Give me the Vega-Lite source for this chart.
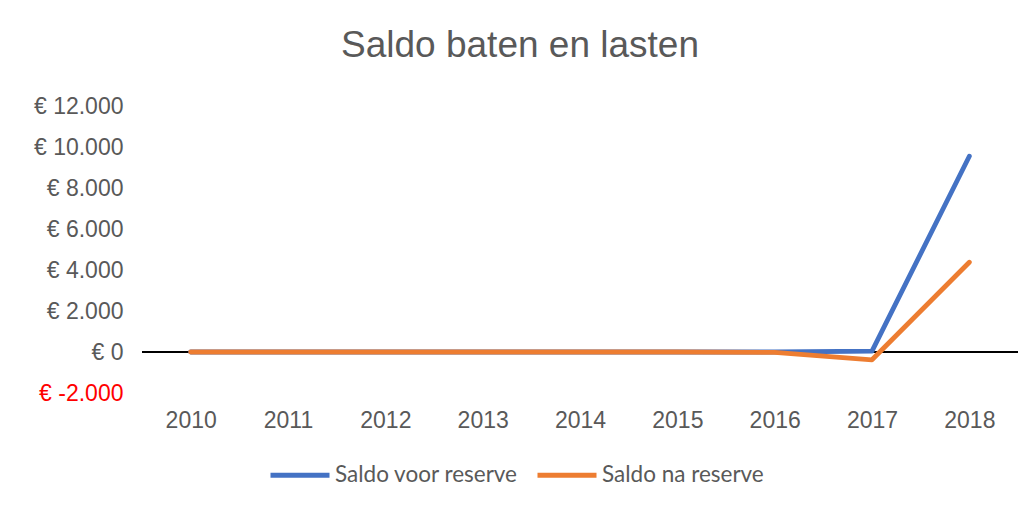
{
  "$schema": "https://vega.github.io/schema/vega-lite/v6.json",
  "autosize": "none",
  "width": 876,
  "height": 287,
  "padding": {"left": 142, "top": 106, "right": 10, "bottom": 121},
  "background": "white",
  "config": {"view": {"stroke": null}},
  "title": {
    "text": "Saldo baten en lasten",
    "font": "Liberation Sans",
    "fontSize": 37,
    "fontWeight": "normal",
    "color": "#595959",
    "anchor": "middle",
    "dx": -60,
    "offset": 30
  },
  "data": {
    "values": [
      {"jaar": "2010", "reeks": "Saldo voor reserve", "saldo": 0},
      {"jaar": "2011", "reeks": "Saldo voor reserve", "saldo": 0},
      {"jaar": "2012", "reeks": "Saldo voor reserve", "saldo": 0},
      {"jaar": "2013", "reeks": "Saldo voor reserve", "saldo": 0},
      {"jaar": "2014", "reeks": "Saldo voor reserve", "saldo": 0},
      {"jaar": "2015", "reeks": "Saldo voor reserve", "saldo": 0},
      {"jaar": "2016", "reeks": "Saldo voor reserve", "saldo": 0},
      {"jaar": "2017", "reeks": "Saldo voor reserve", "saldo": 40},
      {"jaar": "2018", "reeks": "Saldo voor reserve", "saldo": 9550},
      {"jaar": "2010", "reeks": "Saldo na reserve", "saldo": 0},
      {"jaar": "2011", "reeks": "Saldo na reserve", "saldo": 0},
      {"jaar": "2012", "reeks": "Saldo na reserve", "saldo": 0},
      {"jaar": "2013", "reeks": "Saldo na reserve", "saldo": 0},
      {"jaar": "2014", "reeks": "Saldo na reserve", "saldo": 0},
      {"jaar": "2015", "reeks": "Saldo na reserve", "saldo": 0},
      {"jaar": "2016", "reeks": "Saldo na reserve", "saldo": -20},
      {"jaar": "2017", "reeks": "Saldo na reserve", "saldo": -380},
      {"jaar": "2018", "reeks": "Saldo na reserve", "saldo": 4380}
    ]
  },
  "layer": [
    {
      "mark": {"type": "rule", "color": "#000000", "strokeWidth": 1.5},
      "encoding": {"y": {"datum": 0, "type": "quantitative"}}
    },
    {
      "mark": {"type": "line", "strokeWidth": 4.8, "strokeCap": "round", "strokeJoin": "round"},
      "encoding": {
        "x": {
          "field": "jaar",
          "type": "ordinal",
          "scale": {"type": "point", "padding": 0.5},
          "axis": {
            "title": null,
            "domain": false,
            "ticks": false,
            "labelAngle": 0,
            "labelFont": "Liberation Sans",
            "labelFontSize": 23,
            "labelColor": "#595959",
            "labelPadding": 16
          }
        },
        "y": {
          "field": "saldo",
          "type": "quantitative",
          "scale": {"domain": [-2000, 12000], "nice": false, "zero": false},
          "axis": {
            "title": null,
            "values": [-2000, 0, 2000, 4000, 6000, 8000, 10000, 12000],
            "domain": false,
            "ticks": false,
            "labelPadding": 19,
            "labelFont": "Liberation Sans",
            "labelFontSize": 23,
            "labelColor": {"condition": {"test": "datum.value < 0", "value": "#FF0000"}, "value": "#595959"},
            "labelExpr": "datum.value < 0 ? '€ -' + replace(format(-datum.value, ','), ',', '.') : '€ ' + replace(format(datum.value, ','), ',', '.')",
            "gridColor": "#D9D9D9",
            "gridWidth": 1.5
          }
        },
        "color": {
          "field": "reeks",
          "type": "nominal",
          "scale": {"domain": ["Saldo voor reserve", "Saldo na reserve"], "range": ["#4472C4", "#ED7D31"]},
          "legend": {
            "title": null,
            "orient": "none",
            "direction": "horizontal",
            "legendX": 126,
            "legendY": 337,
            "symbolType": "stroke",
            "symbolSize": 3481,
            "symbolStrokeWidth": 4.8,
            "labelFont": "Lato",
            "labelFontSize": 22.5,
            "labelColor": "#595959",
            "labelOffset": 3,
            "labelLimit": 400,
            "columnPadding": 8
          }
        },
        "order": {"field": "jaar"}
      }
    }
  ]
}
